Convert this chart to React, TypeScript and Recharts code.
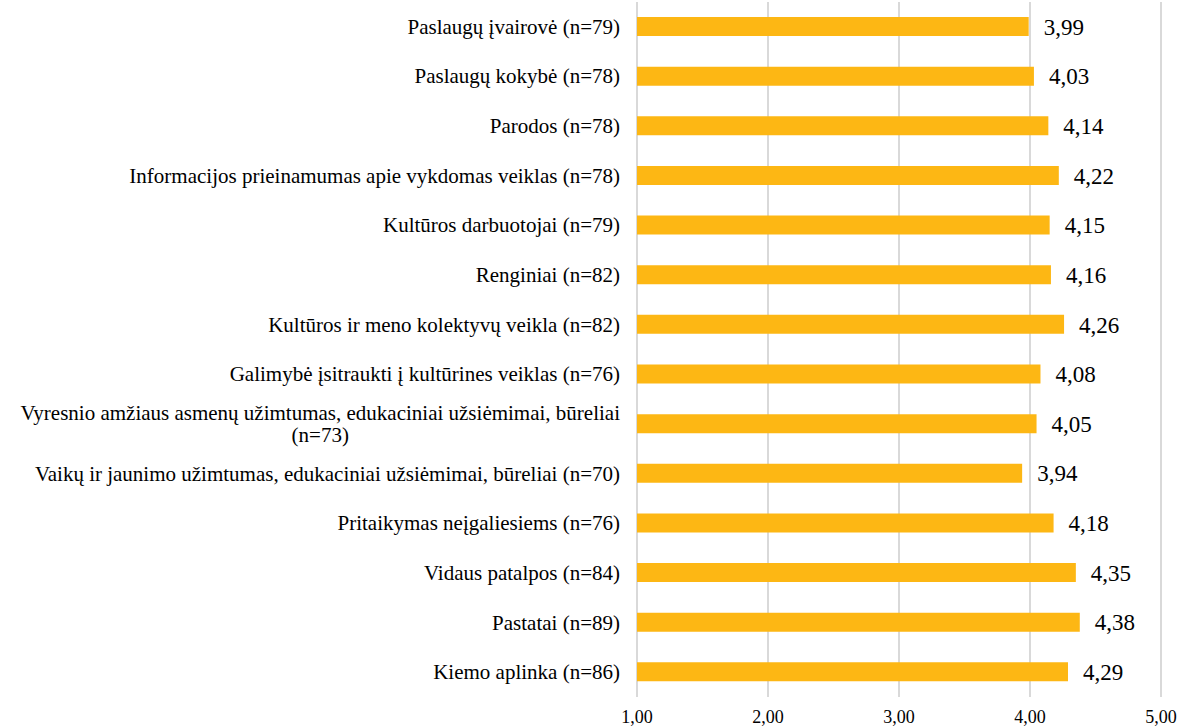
import { BarChart, Bar, XAxis, YAxis, CartesianGrid, LabelList } from 'recharts';

const categories = [
  'Paslaugų įvairovė (n=79)',
  'Paslaugų kokybė (n=78)',
  'Parodos (n=78)',
  'Informacijos prieinamumas apie vykdomas veiklas (n=78)',
  'Kultūros darbuotojai (n=79)',
  'Renginiai (n=82)',
  'Kultūros ir meno kolektyvų veikla (n=82)',
  'Galimybė įsitraukti į kultūrines veiklas (n=76)',
  'Vyresnio amžiaus asmenų užimtumas, edukaciniai užsiėmimai, būreliai\n(n=73)',
  'Vaikų ir jaunimo užimtumas, edukaciniai užsiėmimai, būreliai (n=70)',
  'Pritaikymas neįgaliesiems (n=76)',
  'Vidaus patalpos (n=84)',
  'Pastatai (n=89)',
  'Kiemo aplinka (n=86)',
];

const scores = [3.99, 4.03, 4.14, 4.22, 4.15, 4.16, 4.26, 4.08, 4.05, 3.94, 4.18, 4.35, 4.38, 4.29];

const xTicks = [1, 2, 3, 4, 5];

const data = categories.map((name, i) => ({ name, score: scores[i] }));

const FONT = 'Liberation Serif';
const LABEL_SIZE = 21;

const fmt = (v: number) => v.toFixed(2).replace('.', ',');

let ctx: CanvasRenderingContext2D | null = null;
function textWidth(s: string) {
  if (!ctx) ctx = document.createElement('canvas').getContext('2d');
  if (!ctx) return s.length * 9;
  ctx.font = `${LABEL_SIZE}px "${FONT}"`;
  return ctx.measureText(s).width;
}

function CategoryTick(props: any) {
  const { x, y, payload } = props;
  const lines: string[] = String(payload.value).split('\n');
  const right = x - 9;
  if (lines.length === 1) {
    return (
      <text x={right} y={y} dy={7} textAnchor="end" fontSize={LABEL_SIZE} fill="#000">
        {lines[0]}
      </text>
    );
  }
  const w = textWidth(lines[0]);
  const cx = right - w / 2;
  const lh = 22;
  const start = y - ((lines.length - 1) * lh) / 2;
  return (
    <text textAnchor="middle" fontSize={LABEL_SIZE} fill="#000">
      {lines.map((l, i) => (
        <tspan key={i} x={cx} y={start + i * lh} dy={7}>
          {l}
        </tspan>
      ))}
    </text>
  );
}

const css = `body{margin:0} .chart-root svg text, .chart-root svg tspan { font-family: "Liberation Serif", serif !important; }`;

export default function App() {
  return (
    <div className="chart-root" style={{ width: 1179, height: 727, background: '#fff' }}>
      <style>{css}</style>
      <BarChart
        width={1179}
        height={727}
        data={data}
        layout="vertical"
        margin={{ top: 2, right: 18, bottom: 0, left: 0 }}
        barCategoryGap="31%"
      >
        <CartesianGrid horizontal={false} stroke="#d9d9d9" strokeWidth={2} />
        <XAxis
          type="number"
          domain={[1, 5]}
          ticks={xTicks}
          tickFormatter={fmt}
          axisLine={false}
          tickLine={false}
          height={30}
          tick={{ fontSize: 18, fill: '#000' }}
          tickMargin={7}
        />
        <YAxis
          type="category"
          dataKey="name"
          width={637}
          axisLine={false}
          tickLine={false}
          interval={0}
          tick={<CategoryTick />}
        />
        <Bar dataKey="score" fill="#FDB714" barSize={19} isAnimationActive={false}>
          <LabelList
            dataKey="score"
            position="right"
            offset={15}
            formatter={(v: any) => fmt(Number(v))}
            style={{ fontSize: 23, fill: '#000' }}
          />
        </Bar>
      </BarChart>
    </div>
  );
}
